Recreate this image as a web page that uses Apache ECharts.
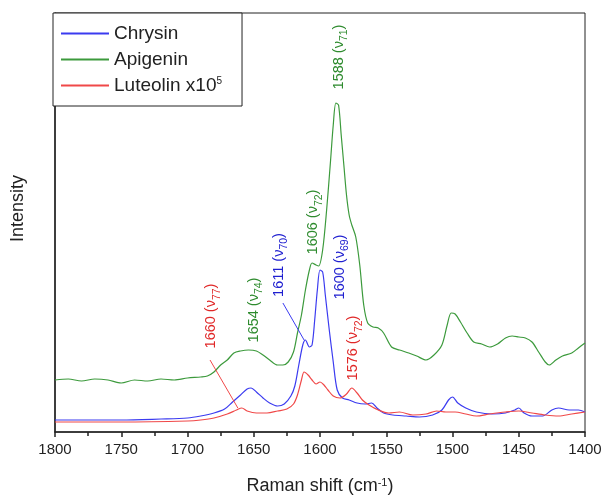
<!DOCTYPE html>
<html>
<head>
<meta charset="utf-8">
<script src="https://cdn.jsdelivr.net/npm/echarts@6/dist/echarts.min.js"></script>
<style>
  html, body { margin: 0; padding: 0; background: #fff; }
  #chart { width: 605px; height: 500px; }
</style>
</head>
<body>
<div id="chart"></div>
<script>
// Raman shift (cm-1) and intensity (arbitrary units)
const chrysinShift = [1800, 1750, 1720, 1700, 1690, 1680, 1672, 1666, 1660, 1655, 1652, 1648, 1643, 1638, 1632, 1627, 1622, 1619, 1616, 1613, 1611, 1608, 1606, 1604, 1602, 1600, 1598, 1596, 1593, 1590, 1587, 1583, 1578, 1572, 1566, 1561, 1557, 1552, 1545, 1535, 1525, 1515, 1508, 1503, 1500, 1496, 1490, 1482, 1470, 1460, 1453, 1450, 1446, 1440, 1432, 1425, 1420, 1412, 1405, 1400];
const chrysinVal = [12, 12, 13, 14, 16, 19, 23, 30, 37, 43, 44, 40, 34, 29, 26, 28, 36, 46, 67, 87, 92, 85, 87, 112, 142, 162, 160, 137, 102, 70, 42, 34, 32, 29, 28, 29, 24, 19, 17, 16, 15, 17, 22, 32, 35, 29, 24, 20, 18, 19, 22, 24, 19, 16, 16, 22, 24, 22, 22, 20];

const apigeninShift = [1800, 1790, 1780, 1770, 1760, 1750, 1740, 1730, 1720, 1710, 1700, 1690, 1685, 1680, 1675, 1670, 1665, 1660, 1654, 1648, 1643, 1638, 1632, 1628, 1624, 1620, 1617, 1614, 1611, 1608, 1606, 1603, 1601, 1598, 1595, 1592, 1590, 1588, 1586, 1584, 1582, 1580, 1578, 1576, 1573, 1570, 1567, 1564, 1560, 1556, 1552, 1546, 1540, 1533, 1527, 1520, 1514, 1508, 1504, 1501, 1498, 1494, 1489, 1484, 1478, 1472, 1466, 1460, 1455, 1450, 1445, 1440, 1435, 1430, 1427, 1422, 1417, 1410, 1405, 1400];
const apigeninVal = [52, 53, 51, 53, 52, 49, 52, 51, 53, 52, 54, 55, 56, 60, 67, 72, 79, 81, 82, 81, 77, 72, 67, 67, 70, 80, 99, 117, 142, 162, 169, 167, 166, 182, 222, 272, 307, 329, 327, 297, 267, 237, 217, 207, 195, 167, 127, 109, 105, 104, 99, 85, 82, 79, 76, 72, 77, 87, 107, 119, 118, 110, 99, 90, 88, 85, 88, 94, 96, 95, 94, 90, 80, 70, 67, 72, 76, 79, 84, 89];

const luteolinShift = [1800, 1750, 1700, 1690, 1680, 1670, 1663, 1659, 1655, 1648, 1640, 1632, 1625, 1620, 1617, 1614, 1612, 1609, 1606, 1603, 1600, 1597, 1594, 1590, 1585, 1580, 1576, 1572, 1568, 1563, 1556, 1548, 1540, 1530, 1520, 1512, 1505, 1498, 1490, 1482, 1472, 1460, 1450, 1440, 1430, 1420, 1410, 1400];
const luteolinVal = [10, 10, 11, 12, 14, 18, 22, 24, 21, 19, 19, 21, 23, 28, 37, 52, 60, 57, 52, 48, 50, 47, 42, 36, 34, 38, 44, 39, 32, 27, 22, 19, 20, 17, 18, 21, 20, 20, 18, 16, 18, 20, 21, 19, 17, 16, 18, 20];

const xTicks = [1800, 1750, 1700, 1650, 1600, 1550, 1500, 1450, 1400];

// peak labels: [shift, intensity at label centre, band, mode]
const chrysinPeaks = [[1631, 167, '1611', '70'], [1585, 165, '1600', '69']];
const apigeninPeaks = [[1586, 375, '1588', '71'], [1605, 210, '1606', '72'], [1650, 122, '1654', '74']];
const luteolinPeaks = [[1682, 116, '1660', '77'], [1575, 84, '1576', '72']];

// leader lines from label to peak
const chrysinLeader = [[1628, 129], [1612, 92]];
const luteolinLeader = [[1683, 72], [1662, 24]];

const blue = '#3b3bf0';
const green = '#3c9a3c';
const red = '#f04848';

const zip = (xs, ys) => xs.map((x, i) => [x, ys[i]]);

const peakMarks = (peaks, color) => ({
  symbol: 'circle',
  symbolSize: 0,
  silent: true,
  label: {
    show: true,
    position: 'inside',
    rotate: 90,
    color: color,
    fontFamily: 'Liberation Sans',
    fontSize: 14.5,
    formatter: p => p.data.txt,
    rich: {
      s: { fontSize: 10.5, color: color, fontFamily: 'Liberation Sans', verticalAlign: 'bottom', lineHeight: 22 }
    }
  },
  data: peaks.map(p => ({ coord: [p[0], p[1]], txt: p[2] + ' (\u03bd{s|' + p[3] + '})' }))
})

const leaderLine = (pts, color) => ({
  symbol: 'none',
  silent: true,
  label: { show: false },
  lineStyle: { color: color, width: 1, type: 'solid' },
  data: [[{ coord: pts[0] }, { coord: pts[1] }]]
})

const chart = echarts.init(document.getElementById('chart'))

chart.setOption({
  animation: false,
  textStyle: { fontFamily: 'Liberation Sans' },
  grid: { left: 55, right: 20, top: 13, bottom: 68, show: true, borderColor: '#222', borderWidth: 1 },
  legend: {
    left: 53,
    top: 13,
    orient: 'vertical',
    backgroundColor: '#fff',
    borderColor: '#222',
    borderWidth: 1,
    padding: [11, 20, 11, 8],
    itemGap: 7,
    itemWidth: 48,
    itemHeight: 2,
    icon: 'rect',
    textStyle: {
      fontSize: 19,
      color: '#222',
      rich: { sup: { fontSize: 10, verticalAlign: 'top', color: '#222', padding: [0, 0, 6, 0] } }
    },
    formatter: n => n === 'Luteolin' ? 'Luteolin x10{sup|5}' : n,
    data: ['Chrysin', 'Apigenin', 'Luteolin']
  },
  xAxis: {
    type: 'value',
    min: 1400,
    max: 1800,
    interval: 50,
    inverse: true,
    name: 'Raman shift (cm{sup|-1})',
    nameLocation: 'middle',
    nameGap: 45,
    nameTextStyle: {
      fontSize: 18,
      color: '#222',
      rich: { sup: { fontSize: 11, verticalAlign: 'top', color: '#222', padding: [0, 0, 6, 0] } }
    },
    axisLine: { lineStyle: { color: '#222', width: 1.5 } },
    axisTick: { show: true, length: 5, inside: false, lineStyle: { color: '#222', width: 1.5 } },
    minorTick: { show: true, splitNumber: 2, length: 4, lineStyle: { color: '#222', width: 1.5 } },
    axisLabel: { fontSize: 15, color: '#222', margin: 10, formatter: v => xTicks.includes(v) ? String(v) : '' },
    splitLine: { show: false }
  },
  yAxis: {
    type: 'value',
    min: 0,
    max: 419,
    name: 'Intensity',
    nameLocation: 'middle',
    nameGap: 28,
    nameTextStyle: { fontSize: 18, color: '#222', padding: [0, 0, 0, 28] },
    axisLine: { show: true, lineStyle: { color: '#222', width: 1.5 } },
    axisTick: { show: false },
    axisLabel: { show: false },
    splitLine: { show: false }
  },
  series: [
    {
      name: 'Chrysin',
      type: 'line',
      data: zip(chrysinShift, chrysinVal),
      smooth: 0.3,
      showSymbol: false,
      color: blue,
      lineStyle: { width: 1.2 },
      markPoint: peakMarks(chrysinPeaks, '#2020d0'),
      markLine: leaderLine(chrysinLeader, blue)
    },
    {
      name: 'Apigenin',
      type: 'line',
      data: zip(apigeninShift, apigeninVal),
      smooth: 0.3,
      showSymbol: false,
      color: green,
      lineStyle: { width: 1.2 },
      markPoint: peakMarks(apigeninPeaks, '#2e8b2e')
    },
    {
      name: 'Luteolin',
      type: 'line',
      data: zip(luteolinShift, luteolinVal),
      smooth: 0.3,
      showSymbol: false,
      color: red,
      lineStyle: { width: 1.2 },
      markPoint: peakMarks(luteolinPeaks, '#e02828'),
      markLine: leaderLine(luteolinLeader, red)
    }
  ]
})
</script>
</body>
</html>
